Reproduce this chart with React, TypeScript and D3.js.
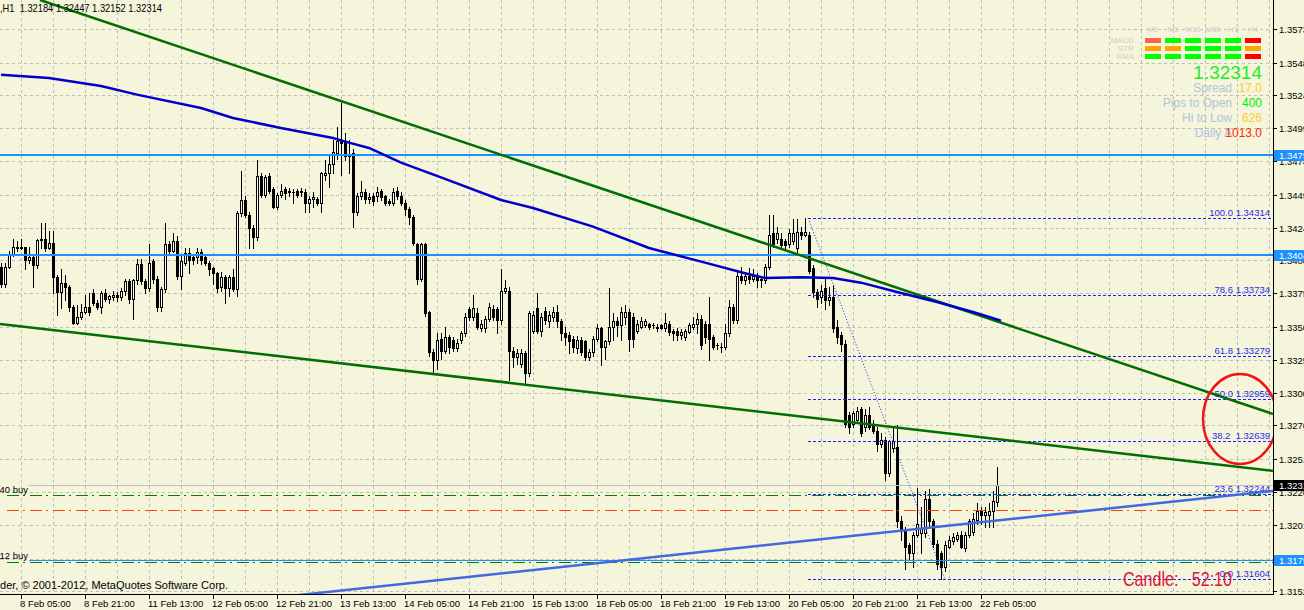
import React from "react";
import * as d3 from "d3";

// canvas & plot frame
const W = 1304;
const H = 610;
const PLOT_R = 1273;
const PLOT_B = 594;
const BG = "#F5F5DC";

// H1 candles, pips above 1.3000
const opens = [395,382,395,404,410,409,410,400,402,396,415,416,409,413,387,376,383,380,365,353,357,361,365,375,368,365,375,371,372,374,372,377,384,371,385,397,384,379,399,386,365,378,412,407,414,388,398,405,402,402,406,402,398,394,390,380,387,379,387,378,435,445,434,424,417,463,449,463,453,440,449,453,451,451,452,451,451,443,446,446,443,464,465,472,480,489,489,478,480,436,448,451,446,448,448,452,448,444,443,452,448,443,438,432,412,386,412,361,331,325,341,332,342,340,334,340,345,363,357,360,349,349,356,363,363,355,377,377,332,327,322,330,315,347,364,347,362,354,357,361,354,345,344,341,334,340,339,327,331,341,349,335,339,350,354,351,357,361,357,347,350,351,352,351,350,351,349,352,347,347,344,342,346,350,352,356,352,352,342,336,335,335,345,365,355,388,385,388,386,388,386,385,395,420,416,416,414,412,414,409,421,419,419,394,376,372,379,370,372,350,344,337,284,277,280,288,275,284,277,272,262,265,240,259,260,204,197,186,180,194,195,195,221,204,187,180,170,185,189,191,194,184,194,196,205,212,209,209,212,218.4];
const closes = [382,395,404,410,409,410,400,402,396,415,416,409,413,387,376,383,380,365,353,357,361,365,361,368,365,375,371,373,374,372,377,384,371,385,397,384,379,398,386,365,378,412,407,414,388,399,405,400,400,406,400,398,393,390,379,387,379,387,378,435,445,434,424,417,463,449,462,452,440,449,452,450,452,451,449,452,443,446,447,443,465,465,472,481,489,488,478,479,436,448,451,446,447,444,451,447,443,443,451,448,443,438,432,413,386,412,360,331,325,340,332,342,335,334,338,345,357,357,364,350,352,356,365,357,355,377,379,332,327,330,330,315,360,359,347,357,355,359,361,354,345,342,339,335,340,331,327,331,341,349,335,339,350,354,351,361,361,341,341,352,354,354,350,351,349,349,353,346,345,344,346,347,351,352,356,336,342,341,335,336,335,345,365,355,388,385,388,386,388,385,385,395,419,412,420,411,411,420,420,421,419,421,392,376,371,377,370,372,349,342,337,277,275,285,287,270,284,275,272,262,265,240,264,264,204,197,185,180,194,202,199,221,204,187,172,170,186,190,192,194,185,194,204,206,212,209,211,212,219,231.4];
const highs = [398,398,407,416,414,416,410,410,404,416,428,428,422,422,389,393,389,381,366,366,367,374,375,378,370,377,378,374,377,376,379,386,386,386,401,401,386,412,401,388,380,428,414,420,418,404,409,409,403,409,408,403,399,395,391,391,389,389,393,437,467,448,436,426,475,465,464,465,455,450,457,455,454,453,453,454,453,448,451,447,466,475,478,490,500,518,495,490,483,450,459,453,450,450,455,453,449,446,454,455,451,445,440,434,413,413,413,362,333,345,345,350,344,342,341,347,360,365,374,364,355,358,368,366,365,393,385,380,335,333,333,332,362,362,375,360,365,362,365,366,356,350,346,343,343,342,340,333,343,352,350,340,379,360,357,365,366,363,360,355,357,356,353,353,352,352,360,354,348,349,348,348,353,357,360,359,354,372,344,338,338,352,370,367,392,395,391,394,393,390,388,397,434,434,425,420,416,423,431,431,425,431.4,421,396,378,381,387,380,381,355,346,340,286,287,290,290,288,290,280,275,270,267,265,275,276,208,200,188,196,229,215,227,228,206,190,182,189,193,195,196,197,196,206,210,218,215,215,218,227,244.7];
const lows = [380,380,394,403,407,408,393,398,380,394,409,407,408,375,359,364,370,362,352,352,356,360,359,366,363,360,369,368,370,369,370,374,368,356,382,382,375,377,383,362,362,376,405,406,386,378,396,390,397,398,397,396,389,382,376,377,368,373,377,373,433,432,409,409,415,447,447,450,439,438,447,446,448,443,447,448,436,436,440,441,436,460,455,465,476,464,475,465,425,434,446,443,443,441,444,445,441,441,441,446,441,434,427,411,382,384,358,328,315,318,326,330,330,332,332,338,343,355,355,348,347,346,354,355,345,352,375,310,320,322,320,306,313,345,345,343,352,350,354,350,340,336,330,331,330,329,325,325,328,339,321,326,337,340,343,340,352,332,335,345,349,350,348,349,347,348,347,344,340,340,341,340,345,348,345,333,338,325,333,333,331,333,343,353,353,383,382,383,384,380,380,383,393,410,413,409,408,410,412,405,416,418,390,372,365,368,363,366,346,338,332,275,270,275,278,268,272,273,270,257,260,235,238,256,200,190,168,175,170,192,180,192,200,185,168,160.4,167,184,187,189,184,182,192,194,202,202,200,200,200,215.2];

// time axis labels (one every 16 bars, first at bar 5)
const timeLabels = ["8 Feb 05:00","8 Feb 21:00","11 Feb 13:00","12 Feb 05:00","12 Feb 21:00","13 Feb 13:00","14 Feb 05:00","14 Feb 21:00","15 Feb 13:00","18 Feb 05:00","18 Feb 21:00","19 Feb 13:00","20 Feb 05:00","20 Feb 21:00","21 Feb 13:00","22 Feb 05:00"];
const priceTicks = [1.3573,1.3548,1.3524,1.3499,1.3474,1.3449,1.3424,1.3400,1.3375,1.3350,1.3325,1.3300,1.3276,1.3251,1.3226,1.3201,1.3176,1.3152];

// moving average knots (bar index, pips)
const maIdx = [0,12,25,34,50,58,70,83,87,92,100,110,125,133,148,162,176,186,191,200,208,215,224,234,243,250];
const maVal = [539,536.5,530.5,524,514,506.5,499,491.5,488,484,473,462,445,439,425,409,398,390,386.5,387,386.5,383,376,368.5,361,354.5];

// trend lines [[bar, price], [bar, price]]
const greenUpper = [[9.75, 1.3595], [318, 1.32845]];
const greenLower = [[-0.25, 1.3352], [318, 1.32418]];
const blueTrend = [[-0.25, 1.31248], [318, 1.32268]];

// fibonacci retracement
const fibLevels = ["100.0", "78.6", "61.8", "50.0", "38.2", "23.6", "0.0"];
const fibPrices = [1.34314, 1.33734, 1.33279, 1.32959, 1.32639, 1.32244, 1.31604];
const fibStart = 201.8;
const fibEnd = 236;

// horizontal lines
const hLineUpper = 1.3479;
const hLineLower = 1.3404;
const bid = 1.32314;
const buyLine1 = 1.3224;
const stopLine = 1.32125;
const buyLine2Blue = 1.3175;
const buyLine2 = 1.31735;

// info panel
const timeframes = ["M1", "M5", "M15", "M30", "H1", "H4"];
const macdColors = ["#FF6347", "#00FF00", "#00FF00", "#00FF00", "#00FF00", "#FF0000"];
const strColors = ["#FFA500", "#FFA500", "#00FF00", "#00FF00", "#00FF00", "#FFA500"];
const emaColors = ["#00FF00", "#00FF00", "#00FF00", "#00FF00", "#00FF00", "#FF0000"];
const infoRows = [
  { label: "Spread", value: "17.0", color: "#FFCC33" },
  { label: "Pips to Open", value: "400", color: "#00EE00" },
  { label: "Hi to Low", value: "626", color: "#FFCC33" },
  { label: "Daily A", value: "1013.0", color: "#FF2A00" },
];

const FONT = "'Liberation Sans', Arial, sans-serif";
const DASHDOT = "12,4,2,5";
const p = (v: number) => 1.3 + v / 10000;

export default function App() {
  const x = d3.scaleLinear().domain([0, 249]).range([1, 997]);
  const y = d3.scaleLinear().domain([1.3152, 1.3573]).range([590.7, 29.3]);
  const px = (v: number) => Math.round(y(v)) + 0.5;

  const line = d3.line<number[]>().x((d) => x(d[0])).y((d) => y(d[1]));
  const maPts = maIdx.map((d, i) => [d, p(maVal[i])]);

  const vGrid: number[] = [];
  for (let i = 5; x(i) < PLOT_R; i += 8) vGrid.push(Math.round(x(i)) + 0.5);

  const fibX0 = x(fibStart);

  return (
    <div style={{ position: "absolute", left: 0, top: 0 }}>
      <svg width={W} height={H} style={{ display: "block", fontFamily: FONT }}>
        <defs>
          <clipPath id="plot">
            <rect x={0} y={0} width={PLOT_R} height={PLOT_B} />
          </clipPath>
        </defs>
        <rect width={W} height={H} fill={BG} />

        <g shapeRendering="crispEdges" stroke="#BDBDBD" strokeDasharray="3,3">
          {priceTicks.map((t) => (
            <line key={t} x1={0} x2={PLOT_R} y1={px(t)} y2={px(t)} />
          ))}
          {vGrid.map((gx) => (
            <line key={gx} x1={gx} x2={gx} y1={0} y2={PLOT_B} />
          ))}
        </g>

        {/* candles */}
        <g shapeRendering="crispEdges">
          {closes.map((c, i) => {
            const o = opens[i];
            const cx = Math.round(x(i));
            const top = Math.round(y(p(Math.max(o, c))));
            const bot = Math.round(y(p(Math.min(o, c))));
            const bull = c >= o;
            return (
              <g key={i}>
                <line x1={cx + 0.5} x2={cx + 0.5} y1={Math.round(y(p(highs[i])))} y2={Math.round(y(p(lows[i]))) + 1} stroke="#000" />
                {bot - top < 1 ? (
                  <line x1={cx - 1} x2={cx + 2} y1={top + 0.5} y2={top + 0.5} stroke="#000" />
                ) : (
                  <rect x={cx - 0.5} y={top + 0.5} width={2} height={bot - top} fill={bull ? "#FFFFFF" : "#000"} stroke="#000" />
                )}
              </g>
            );
          })}
        </g>

        <g clipPath="url(#plot)">
          {/* order / level lines */}
          <g shapeRendering="crispEdges">
            <line x1={0} x2={PLOT_R} y1={y(hLineUpper)} y2={y(hLineUpper)} stroke="#1E90FF" strokeWidth={2} />
            <line x1={0} x2={PLOT_R} y1={y(hLineLower)} y2={y(hLineLower)} stroke="#1E90FF" strokeWidth={2} />
            <line x1={29} x2={PLOT_R} y1={px(bid)} y2={px(bid)} stroke="#C0C0C0" />
            <line x1={7} x2={PLOT_R} y1={px(buyLine1)} y2={px(buyLine1)} stroke="#008000" strokeDasharray={DASHDOT} />
            <line x1={7} x2={PLOT_R} y1={px(stopLine)} y2={px(stopLine)} stroke="#FF4500" strokeDasharray={DASHDOT} />
            <line x1={29} x2={PLOT_R} y1={px(buyLine2Blue)} y2={px(buyLine2Blue)} stroke="#1E90FF" />
            <line x1={7} x2={PLOT_R} y1={px(buyLine2)} y2={px(buyLine2)} stroke="#008000" strokeDasharray={DASHDOT} />
          </g>

          {/* fibonacci */}
          <g shapeRendering="crispEdges">
            {fibPrices.map((f) => (
              <line key={f} x1={fibX0} x2={PLOT_R} y1={px(f)} y2={px(f)} stroke="#1F1FFF" strokeDasharray="3,2" />
            ))}
          </g>
          <line x1={fibX0} y1={y(fibPrices[0])} x2={x(fibEnd)} y2={y(fibPrices[6])} stroke="#1F1FFF" strokeDasharray="1,2" />
          {fibLevels.map((l, i) => (
            <text key={l} x={1270} y={px(fibPrices[i]) - 2.5} textAnchor="end" fontSize={9.5} fill="#2A2AE8">
              {l === "38.2" ? `${l}\u00A0\u00A0${fibPrices[i].toFixed(5)}` : `${l} ${fibPrices[i].toFixed(5)}`}
            </text>
          ))}

          {/* trend lines and MA */}
          <path d={line(greenUpper) || ""} fill="none" stroke="#006E00" strokeWidth={2.5} />
          <path d={line(greenLower) || ""} fill="none" stroke="#006E00" strokeWidth={2.5} />
          <path d={line(blueTrend) || ""} fill="none" stroke="#4169E1" strokeWidth={2.5} />
          <path d={line(maPts) || ""} fill="none" stroke="#0000C8" strokeWidth={2.5} />

          <ellipse cx={1240} cy={y(1.32808)} rx={37} ry={45} fill="none" stroke="#EE1515" strokeWidth={2.5} />
        </g>

        {/* texts in chart */}
        <text x={0} y={12} fontSize={11} fill="#000" textLength={162} lengthAdjust="spacingAndGlyphs">
          {",H1\u00A0\u00A01.32184 1.32447 1.32152 1.32314"}
        </text>
        <text x={28} y={493} fontSize={9.5} textAnchor="end" fill="#000">40 buy</text>
        <text x={28} y={559} fontSize={9.5} textAnchor="end" fill="#000">12 buy</text>
        <text x={0} y={589} fontSize={11} fill="#000" textLength={228} lengthAdjust="spacingAndGlyphs">
          der, © 2001-2012, MetaQuotes Software Corp.
        </text>
        <text x={1123} y={586} fontSize={20} fill="#DC143C" textLength={109} lengthAdjust="spacingAndGlyphs">
          {"Candle:\u00A0\u00A0\u00A052:10"}
        </text>

        {/* info panel */}
        {timeframes.map((tf, i) => (
          <text key={tf} x={1153 + i * 20} y={32} fontSize={8} fill="#CFCFC4" textAnchor="middle">{tf}</text>
        ))}
        {["MACD", "STR", "EMA"].map((l, r) => (
          <text key={l} x={1134} y={43 + r * 8} fontSize={8} fill="#CFCFC4" textAnchor="end">{l}</text>
        ))}
        {[macdColors, strColors, emaColors].map((row, r) =>
          row.map((c, i) => (
            <rect key={`${r}-${i}`} x={1145 + i * 20} y={38 + r * 8} width={16} height={5} fill={c} shapeRendering="crispEdges" />
          ))
        )}
        <text x={1262} y={79} fontSize={19} fill="#22EE22" textAnchor="end">{bid.toFixed(5)}</text>
        {infoRows.map((r, i) => (
          <g key={r.label}>
            <text x={1232} y={92 + i * 15} fontSize={12} fill="#B0C4DE" textAnchor="end">{r.label}</text>
            <text x={1262} y={92 + i * 15} fontSize={12} fill={r.color} textAnchor="end">{r.value}</text>
          </g>
        ))}

        {/* axes */}
        <g shapeRendering="crispEdges" stroke="#000">
          <line x1={PLOT_R + 0.5} x2={PLOT_R + 0.5} y1={0} y2={PLOT_B + 1} />
          <line x1={0} x2={PLOT_R + 1} y1={PLOT_B + 0.5} y2={PLOT_B + 0.5} />
          {priceTicks.map((t) => (
            <line key={t} x1={PLOT_R} x2={PLOT_R + 4} y1={px(t)} y2={px(t)} />
          ))}
          {timeLabels.map((l, k) => {
            const tx = Math.round(x(5 + k * 16)) + 0.5;
            return <line key={l} x1={tx} x2={tx} y1={PLOT_B} y2={PLOT_B + 5} />;
          })}
        </g>
        {priceTicks.map((t) => (
          <text key={t} x={1279} y={px(t) + 3.5} fontSize={9.5} fill="#000">{t.toFixed(4)}</text>
        ))}
        {timeLabels.map((l, k) => (
          <text key={l} x={Math.round(x(5 + k * 16)) - 1} y={607} fontSize={9.5} fill="#000">{l}</text>
        ))}

        {/* price-axis markers */}
        {[
          { v: hLineUpper, c: "#1E90FF" },
          { v: hLineLower, c: "#1E90FF" },
          { v: bid, c: "#000000" },
          { v: buyLine2Blue, c: "#1E90FF" },
        ].map((m) => (
          <g key={m.v}>
            <rect x={PLOT_R + 1} y={Math.round(y(m.v)) - 5} width={W - PLOT_R} height={11} fill={m.c} shapeRendering="crispEdges" />
            <text x={1279} y={Math.round(y(m.v)) + 4} fontSize={9.5} fill="#FFF">{m.v.toFixed(4)}</text>
          </g>
        ))}
      </svg>
    </div>
  );
}
